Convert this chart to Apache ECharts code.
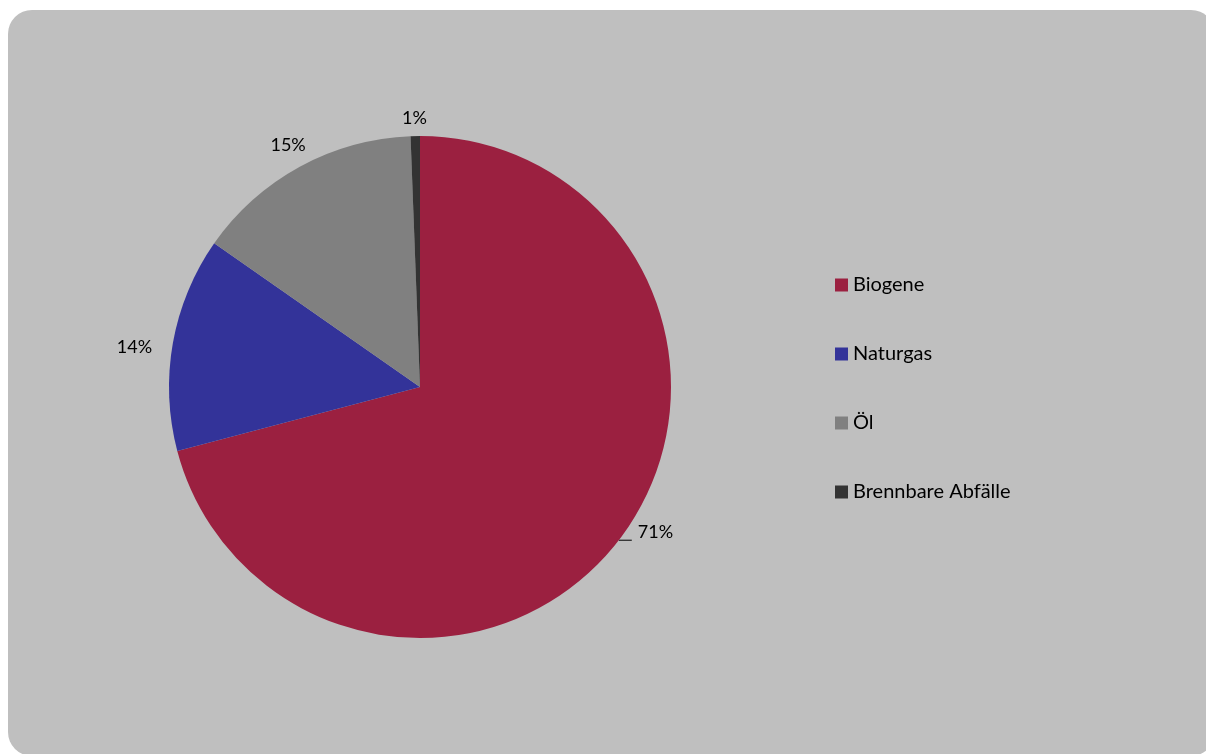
<!DOCTYPE html>
<html>
<head>
<meta charset="utf-8">
<script src="https://cdn.jsdelivr.net/npm/echarts@6/dist/echarts.min.js"></script>
<style>
html,body{margin:0;padding:0;background:#fff;}
#chart{width:1206px;height:754px;}
</style>
</head>
<body>
<div id="chart"></div>
<script>
const categories = ['Biogene', 'Naturgas', 'Öl', 'Brennbare Abfälle'];
const values = [70.9, 13.8, 14.7, 0.6];
const colors = ['#9B2040', '#333399', '#808080', '#333333'];

// label placement tuning (style only)
const labelTune = [
  {show: true, length: 0, length2: 13, dist: 6, dy: -8},
  {show: false, length: 16, length2: 0, dist: 5, dy: 7},
  {show: false, length: 25, length2: -23, dist: 5, dy: 0},
  {show: false, length: 18, length2: -17, dist: 5, dy: 0}
];

const chart = echarts.init(document.getElementById('chart'), null, {renderer: 'canvas'});
const FONT = 'Lato, "Open Sans", "Liberation Sans", sans-serif';

const data = categories.map((name, i) => ({
  name: name,
  value: values[i],
  itemStyle: {color: colors[i]},
  label: {distanceToLabelLine: labelTune[i].dist},
  labelLine: {
    show: labelTune[i].show,
    length: labelTune[i].length,
    length2: labelTune[i].length2,
    lineStyle: {color: '#000', width: 1}
  }
}));

chart.setOption({
  animation: false,
  backgroundColor: '#ffffff',
  graphic: [{
    type: 'rect',
    z: -10,
    silent: true,
    shape: {x: 8, y: 10, width: 1207, height: 746, r: 24},
    style: {fill: '#bfbfbf'}
  }],
  legend: {
    orient: 'vertical',
    left: 835,
    top: 275,
    padding: 0,
    itemWidth: 13,
    itemHeight: 13,
    itemGap: 49,
    icon: 'rect',
    textStyle: {fontFamily: FONT, fontSize: 20, lineHeight: 20, color: '#000'},
    data: categories
  },
  series: [{
    type: 'pie',
    center: [420, 387],
    radius: 251,
    startAngle: 90,
    clockwise: true,
    avoidLabelOverlap: false,
    itemStyle: {borderWidth: 0},
    label: {
      show: true,
      position: 'outside',
      fontFamily: FONT,
      fontSize: 18,
      color: '#000',
      formatter: p => Math.round(p.percent) + '%'
    },
    labelLayout: p => ({dy: labelTune[p.dataIndex].dy}),
    emphasis: {disabled: true},
    data: data
  }]
});
</script>
</body>
</html>
